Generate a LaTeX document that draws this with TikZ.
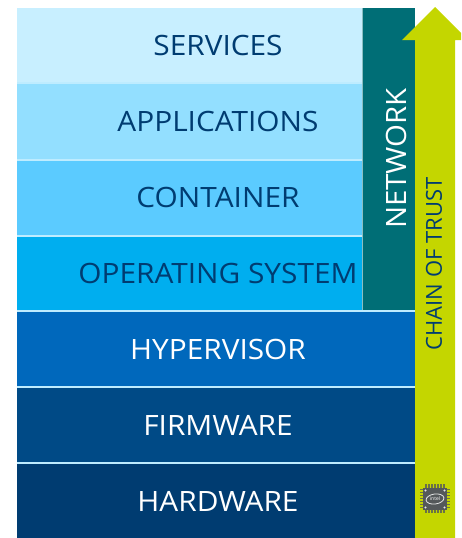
\documentclass[tikz,border=0pt]{standalone}
\usepackage{fontspec}
\usepackage{tikz}
\setmainfont{Open Sans}
\definecolor{services}{HTML}{C8EFFF}
\definecolor{applications}{HTML}{93DFFF}
\definecolor{container}{HTML}{5BCBFF}
\definecolor{opsys}{HTML}{00AEEF}
\definecolor{hypervisor}{HTML}{0068BC}
\definecolor{firmware}{HTML}{004A86}
\definecolor{hardware}{HTML}{003C71}
\definecolor{network}{HTML}{006E76}
\definecolor{chain}{HTML}{C4D600}
\definecolor{chip}{HTML}{54585A}
\tikzset{
  layer/.style={font=\fontsize{28}{28}\selectfont, inner sep=0pt, xscale=1.065},
  sep/.style={draw=white!40!applications, line width=1.4pt},
}

\begin{document}
\begin{tikzpicture}[x=1pt, y=-1pt]
      \useasboundingbox (0,0) rectangle (461,538);
      \clip (0,0) rectangle (461,538);

      \foreach \t/\b/\r/\c in {8/83/362/services, 83/160/362/applications, 160/236/362/container, 236/311/362/opsys,
          311/387/415/hypervisor, 387/463/415/firmware, 463/538/415/hardware} {
        \fill[\c] (17,\t) rectangle (\r,\b);
      };

      \fill[network] (363,8) rectangle (415,311);
      \draw[white!55!network, line width=.9pt] (362.5,8) -- (362.5,311);

      \foreach \y/\r in {83/362, 160/362, 236/362, 311/415, 387/415, 463/415} {
        \draw[sep] (17,\y) -- (\r,\y);
      };

      \foreach \y/\tc/\name/\label in {
          45/hardware/services/SERVICES,
          121/hardware/apps/APPLICATIONS,
          197/hardware/cont/CONTAINER,
          273.5/hardware/os/OPERATING SYSTEM,
          349.5/white/hyper/HYPERVISOR,
          425.5/white/firm/FIRMWARE,
          501.5/white/hard/HARDWARE} {
        \node[layer, text=\tc] (\name) at (218,\y) {\label};
      };

      \node[font=\fontsize{28}{28}\selectfont, text=white, rotate=90, xscale=1.05, inner sep=0pt] (net) at (396.5,158.5) {NETWORK};

      % arrow runs past the right edge of the picture
      \fill[chain] (415,538) -- (415,40) -- (402,40) -- (435,7) -- (468,40) -- (455,40) -- (455,538) -- cycle;
      \node[font=\fontsize{22}{22}\selectfont, text=hardware, rotate=90, inner sep=0pt] (trust) at (434,264) {CHAIN OF TRUST};

      \foreach \k in {-9,-6,...,9} {
        \draw[chip!80!chain, line width=1.3pt] (435+\k,484) -- (435+\k,513);
        \draw[chip!80!chain, line width=1.3pt] (420,498.5+\k) -- (450,498.5+\k);
      };
      \fill[chip] (423,488) rectangle (447,510);
      \foreach \x/\y in {425.5/490.5, 444.5/490.5, 425.5/507.5, 444.5/507.5} {
        \fill[white!85!chip] (\x,\y) circle (1.2pt);
      };
      \draw[white!85!chip, line width=.8pt, rotate around={8:(435,499)}] (435,499) ellipse (9pt and 5pt);
      \node[font=\fontsize{5}{5}\selectfont, text=white, inner sep=0pt] (intel) at (435,499) {intel};
    \end{tikzpicture}
\end{document}
